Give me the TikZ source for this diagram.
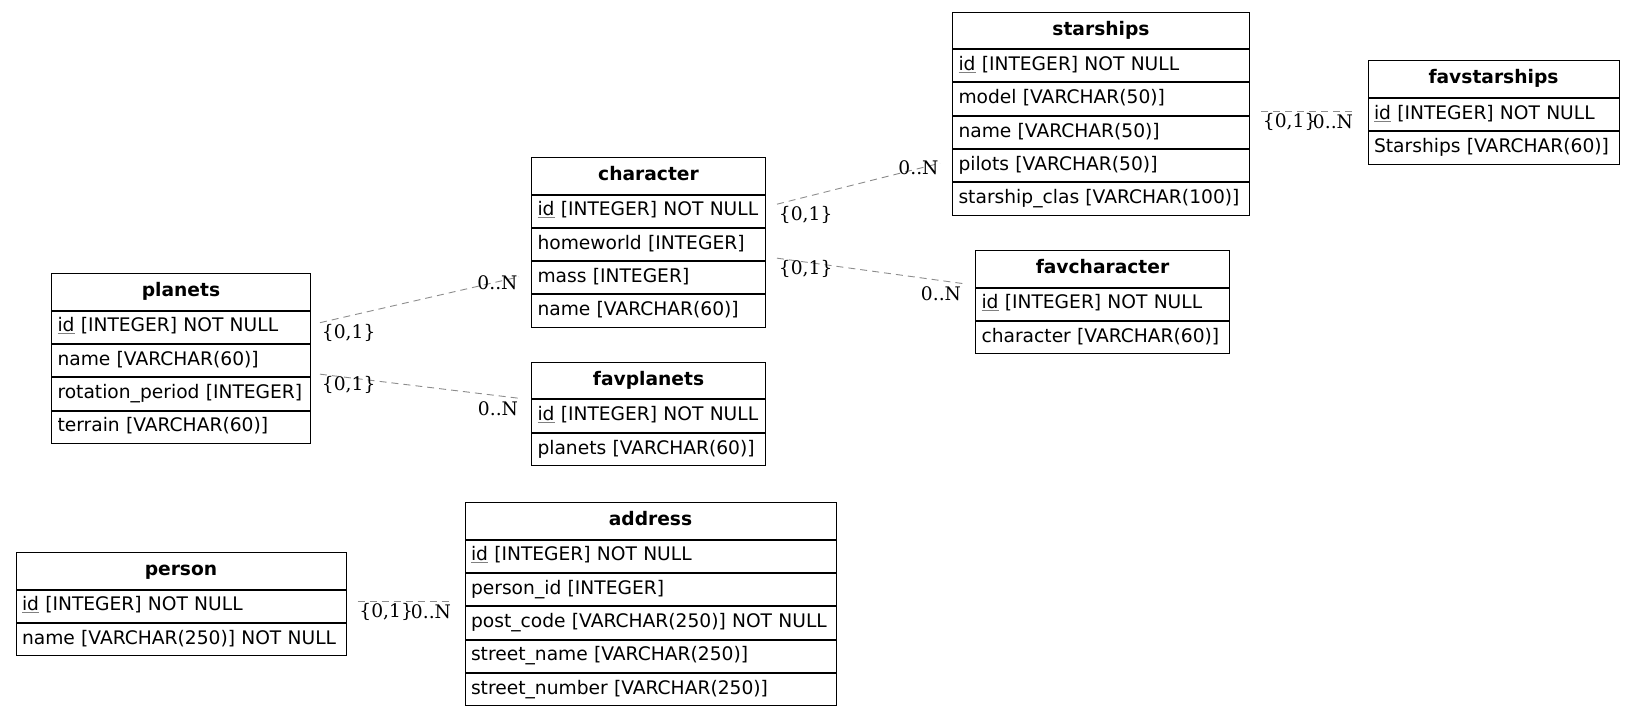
\documentclass[tikz,border=0pt]{standalone}
\usepackage{fontspec}
\setmainfont{DejaVu Sans}
\newfontfamily\cardfont{DejaVu Serif}
\usetikzlibrary{positioning, calc}

\newcommand{\tblfont}{\fontsize{18.67pt}{22pt}\selectfont}
\newcommand{\pkey}[1]{\textcolor{gray}{\underline{\textcolor{black}{#1}}}}

\begin{document}
\begin{tikzpicture}[x=1pt, y=-1pt,
    head/.style={draw, line width=1pt, anchor=north west, minimum width=#1,
        minimum height=36.5pt, inner sep=0pt, font=\tblfont\bfseries,
        text height=14pt, text depth=4.5pt},
    field/.style={draw, line width=1pt, text width=#1, inner xsep=6pt,
        inner ysep=0pt, minimum height=32.33pt, align=left, font=\tblfont,
        text height=14pt, text depth=4.5pt},
    rel/.style={gray!90, line width=0.9pt, dash pattern=on 7pt off 5pt},
    card/.style={font=\cardfont\tblfont, inner sep=0pt, text=black},
    tl/.style={card, anchor=north west, xshift=1.5pt, yshift=-1.5pt},
    hl/.style={card, anchor=north east, xshift=-1pt, yshift=-3pt},
]
\useasboundingbox (0,0) rectangle (1633,716);

% ---- planets ----
\node[head=259pt] (pl) at (51,273) {planets};
\node[field=247pt, below=0pt of pl] (pl-id) {\pkey{id} [INTEGER] NOT NULL};
\node[field=247pt, below=0pt of pl-id] (pl-name) {name [VARCHAR(60)]};
\node[field=247pt, below=0pt of pl-name] (pl-rot) {rotation\_period [INTEGER]};
\node[field=247pt, below=0pt of pl-rot] (pl-ter) {terrain [VARCHAR(60)]};

% ---- character ----
\node[head=234pt] (ch) at (531,157) {character};
\node[field=222pt, below=0pt of ch] (ch-id) {\pkey{id} [INTEGER] NOT NULL};
\node[field=222pt, below=0pt of ch-id] (ch-hw) {homeworld [INTEGER]};
\node[field=222pt, below=0pt of ch-hw] (ch-mass) {mass [INTEGER]};
\node[field=222pt, below=0pt of ch-mass] (ch-name) {name [VARCHAR(60)]};

% ---- favplanets ----
\node[head=234pt, below=34pt of ch-name] (fpl) {favplanets};
\node[field=222pt, below=0pt of fpl] (fpl-id) {\pkey{id} [INTEGER] NOT NULL};
\node[field=222pt, below=0pt of fpl-id] (fpl-pl) {planets [VARCHAR(60)]};

% ---- starships ----
\node[head=297pt] (st) at (952,11.5) {starships};
\node[field=285pt, below=0pt of st] (st-id) {\pkey{id} [INTEGER] NOT NULL};
\node[field=285pt, below=0pt of st-id] (st-model) {model [VARCHAR(50)]};
\node[field=285pt, below=0pt of st-model] (st-name) {name [VARCHAR(50)]};
\node[field=285pt, below=0pt of st-name] (st-pilots) {pilots [VARCHAR(50)]};
\node[field=285pt, below=0pt of st-pilots] (st-clas) {starship\_clas [VARCHAR(100)]};

% ---- favstarships ----
\node[head=251pt] (fst) at (1367.5,60.4) {favstarships};
\node[field=239pt, below=0pt of fst] (fst-id) {\pkey{id} [INTEGER] NOT NULL};
\node[field=239pt, below=0pt of fst-id] (fst-st) {Starships [VARCHAR(60)]};

% ---- favcharacter ----
\node[head=254pt] (fch) at (975,250) {favcharacter};
\node[field=242pt, below=0pt of fch] (fch-id) {\pkey{id} [INTEGER] NOT NULL};
\node[field=242pt, below=0pt of fch-id] (fch-ch) {character [VARCHAR(60)]};

% ---- person ----
\node[head=330pt] (pe) at (15.5,552) {person};
\node[field=318pt, below=0pt of pe] (pe-id) {\pkey{id} [INTEGER] NOT NULL};
\node[field=318pt, below=0pt of pe-id] (pe-name) {name [VARCHAR(250)] NOT NULL};

% ---- address ----
\node[head=371pt] (ad) at (464.5,502) {address};
\node[field=359pt, below=0pt of ad] (ad-id) {\pkey{id} [INTEGER] NOT NULL};
\node[field=359pt, below=0pt of ad-id] (ad-pid) {person\_id [INTEGER]};
\node[field=359pt, below=0pt of ad-pid] (ad-post) {post\_code [VARCHAR(250)] NOT NULL};
\node[field=359pt, below=0pt of ad-post] (ad-sname) {street\_name [VARCHAR(250)]};
\node[field=359pt, below=0pt of ad-sname] (ad-snum) {street\_number [VARCHAR(250)]};

% ---- relationships ----
\coordinate (r1a) at ($(pl-id.east)+(9,-4.5)$);
\coordinate (r1b) at ($(ch-mass.west)+(-12,-1)$);
\draw[rel] (r1a) -- (r1b)
    node[pos=0, tl] {\{0,1\}}
    node[pos=1, hl, yshift=5pt] {0..N};

\coordinate (r2a) at ($(pl-name.south east)+(9,-3)$);
\coordinate (r2b) at ($(fpl.south west)+(-11.5,-1)$);
\draw[rel] (r2a) -- (r2b)
    node[pos=0, tl] {\{0,1\}}
    node[pos=1, hl] {0..N};

\coordinate (r3a) at ($(ch-id.east)+(11,-7)$);
\coordinate (r3b) at ($(st-pilots.west)+(-12,-2.5)$);
\draw[rel] (r3a) -- (r3b)
    node[pos=0, tl] {\{0,1\}}
    node[pos=1, hl, yshift=6pt] {0..N};

\coordinate (r4a) at ($(ch-hw.south east)+(11,-3)$);
\coordinate (r4b) at ($(fch.south west)+(-12.5,-4)$);
\draw[rel] (r4a) -- (r4b)
    node[pos=0, tl] {\{0,1\}}
    node[pos=1, hl] {0..N};

\coordinate (r5a) at ($(st-model.south east)+(11,-4)$);
\coordinate (r5b) at ($(r5a -| fst-id.west)+(-13,0)$);
\draw[rel] (r5a) -- (r5b)
    node[pos=0, tl] {\{0,1\}}
    node[pos=1, hl] {0..N};

\coordinate (r6a) at ($(pe-id.east)+(11,-5)$);
\coordinate (r6b) at ($(r6a -| ad.west)+(-12,0)$);
\draw[rel] (r6a) -- (r6b)
    node[pos=0, tl] {\{0,1\}}
    node[pos=1, hl] {0..N};

\end{tikzpicture}
\end{document}
